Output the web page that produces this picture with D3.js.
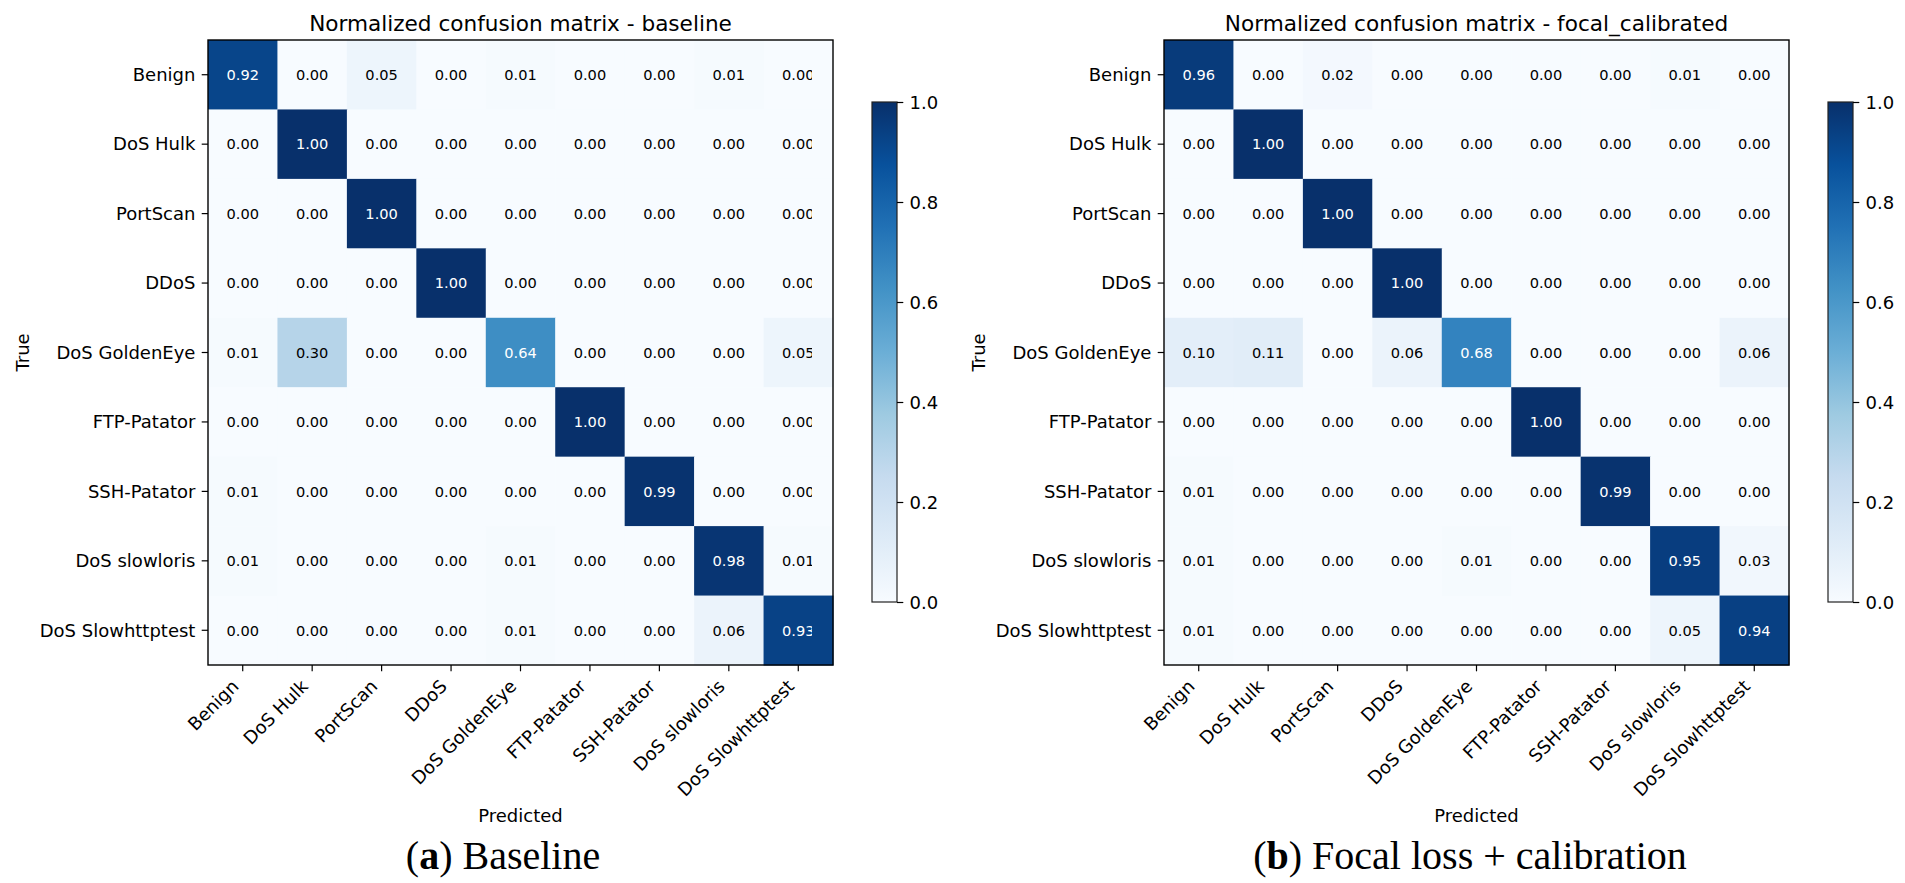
<!DOCTYPE html>
<html><head><meta charset="utf-8">
<script src="https://cdn.jsdelivr.net/npm/d3@7/dist/d3.min.js"></script>
<style>body{margin:0;background:#fff} svg{display:block}</style>
</head><body><svg id="fig" width="1905" height="883"></svg>
<script>
// ---------- data ----------
const classes = ["Benign","DoS Hulk","PortScan","DDoS","DoS GoldenEye","FTP-Patator","SSH-Patator","DoS slowloris","DoS Slowhttptest"];

const baselineValues = [
  [0.92,0.00,0.05,0.00,0.01,0.00,0.00,0.01,0.00],
  [0.00,1.00,0.00,0.00,0.00,0.00,0.00,0.00,0.00],
  [0.00,0.00,1.00,0.00,0.00,0.00,0.00,0.00,0.00],
  [0.00,0.00,0.00,1.00,0.00,0.00,0.00,0.00,0.00],
  [0.01,0.30,0.00,0.00,0.64,0.00,0.00,0.00,0.05],
  [0.00,0.00,0.00,0.00,0.00,1.00,0.00,0.00,0.00],
  [0.01,0.00,0.00,0.00,0.00,0.00,0.99,0.00,0.00],
  [0.01,0.00,0.00,0.00,0.01,0.00,0.00,0.98,0.01],
  [0.00,0.00,0.00,0.00,0.01,0.00,0.00,0.06,0.93]
];

const focalValues = [
  [0.96,0.00,0.02,0.00,0.00,0.00,0.00,0.01,0.00],
  [0.00,1.00,0.00,0.00,0.00,0.00,0.00,0.00,0.00],
  [0.00,0.00,1.00,0.00,0.00,0.00,0.00,0.00,0.00],
  [0.00,0.00,0.00,1.00,0.00,0.00,0.00,0.00,0.00],
  [0.10,0.11,0.00,0.06,0.68,0.00,0.00,0.00,0.06],
  [0.00,0.00,0.00,0.00,0.00,1.00,0.00,0.00,0.00],
  [0.01,0.00,0.00,0.00,0.00,0.00,0.99,0.00,0.00],
  [0.01,0.00,0.00,0.00,0.01,0.00,0.00,0.95,0.03],
  [0.01,0.00,0.00,0.00,0.00,0.00,0.00,0.05,0.94]
];

const colorbarTicks = [0.0,0.2,0.4,0.6,0.8,1.0];
const panelTitles = ["Normalized confusion matrix - baseline","Normalized confusion matrix - focal_calibrated"];
const captionTags = ["a","b"];
const captionTexts = [" Baseline"," Focal loss + calibration"];
const bluesStops = ["#f7fbff","#deebf7","#c6dbef","#9ecae1","#6baed6","#4292c6","#2171b5","#08519c","#08306b"];

// ---------- layout ----------
const svg = d3.select("#fig");
const SANS = "'DejaVu Sans', sans-serif";
const SERIF = "'Liberation Serif', 'DejaVu Serif', serif";
const TOP = 40, SIZE = 625;
const panels = [
  {x0:208, values:baselineValues, title:panelTitles[0], tag:captionTags[0], cap:captionTexts[0], capX:503, clipRight:812},
  {x0:1164, values:focalValues, title:panelTitles[1], tag:captionTags[1], cap:captionTexts[1], capX:1470, clipRight:null}
];

const color = d3.scaleLinear()
  .domain(bluesStops.map((_,i)=>i/(bluesStops.length-1)))
  .range(bluesStops)
  .interpolate(d3.interpolateRgb)
  .clamp(true);

// gradient for colorbars
const defs = svg.append("defs");
const grad = defs.append("linearGradient").attr("id","bluesGrad")
  .attr("x1",0).attr("y1",1).attr("x2",0).attr("y2",0);
bluesStops.forEach((c,i)=>grad.append("stop").attr("offset",(i/(bluesStops.length-1)*100)+"%").attr("stop-color",c));

panels.forEach((p,pi)=>{
  const x = d3.scaleBand().domain(classes).range([p.x0, p.x0+SIZE]);
  const y = d3.scaleBand().domain(classes).range([TOP, TOP+SIZE]);
  const g = svg.append("g");

  const cells = [];
  p.values.forEach((row,ri)=>row.forEach((v,ci)=>cells.push({r:classes[ri], c:classes[ci], v})));

  g.append("g").selectAll("rect").data(cells).join("rect")
    .attr("x",d=>x(d.c)).attr("y",d=>y(d.r))
    .attr("width",x.bandwidth()+0.5).attr("height",y.bandwidth()+0.5)
    .attr("fill",d=>color(d.v));

  let txtG = g.append("g");
  if (p.clipRight !== null) {
    defs.append("clipPath").attr("id","clip"+pi).append("rect")
      .attr("x",p.x0).attr("y",TOP).attr("width",p.clipRight-p.x0).attr("height",SIZE);
    txtG.attr("clip-path","url(#clip"+pi+")");
  }
  txtG.selectAll("text").data(cells).join("text")
    .attr("x",d=>x(d.c)+x.bandwidth()/2)
    .attr("y",d=>y(d.r)+y.bandwidth()/2)
    .attr("dy","0.36em")
    .attr("text-anchor","middle")
    .attr("font-family",SANS).attr("font-size",14.6)
    .attr("fill",d=>d.v>0.5?"#ffffff":"#000000")
    .text(d=>d.v.toFixed(2));

  // frame
  g.append("rect").attr("x",p.x0).attr("y",TOP).attr("width",SIZE).attr("height",SIZE)
    .attr("fill","none").attr("stroke","#000").attr("stroke-width",1.4);

  // y axis
  const ya = g.append("g").attr("transform",`translate(${p.x0},0)`)
    .call(d3.axisLeft(y).tickSize(6.3).tickPadding(6.3));
  ya.select(".domain").remove();
  ya.selectAll("line").attr("stroke","#000").attr("stroke-width",1.2);
  ya.selectAll("text").attr("font-family",SANS).attr("font-size",18).attr("fill","#000").attr("dy","0.35em");

  // x axis
  const xa = g.append("g").attr("transform",`translate(0,${TOP+SIZE})`)
    .call(d3.axisBottom(x).tickSize(6.3));
  xa.select(".domain").remove();
  xa.selectAll("line").attr("stroke","#000").attr("stroke-width",1.2);
  xa.selectAll("text")
    .attr("font-family",SANS).attr("font-size",18).attr("fill","#000")
    .attr("x",0).attr("y",0).attr("dy",0)
    .attr("text-anchor","end")
    .attr("transform","translate(-3,22.5) rotate(-45)");

  // title
  g.append("text").attr("x",p.x0+SIZE/2).attr("y",31)
    .attr("text-anchor","middle").attr("font-family",SANS).attr("font-size",21.6)
    .attr("fill","#000").text(p.title);

  // axis labels
  g.append("text").attr("transform",`translate(${p.x0-179},${TOP+SIZE/2}) rotate(-90)`)
    .attr("text-anchor","middle").attr("font-family",SANS).attr("font-size",18)
    .attr("fill","#000").text("True");
  g.append("text").attr("x",p.x0+SIZE/2).attr("y",822)
    .attr("text-anchor","middle").attr("font-family",SANS).attr("font-size",18)
    .attr("fill","#000").text("Predicted");

  // colorbar
  const cbX = p.x0+664, cbW = 25;
  const cbScale = d3.scaleLinear().domain([0,1]).range([602,102]);
  g.append("rect").attr("x",cbX).attr("y",cbScale(1)).attr("width",cbW)
    .attr("height",cbScale(0)-cbScale(1)).attr("fill","url(#bluesGrad)");
  g.append("rect").attr("x",cbX).attr("y",cbScale(1)).attr("width",cbW)
    .attr("height",cbScale(0)-cbScale(1)).attr("fill","none")
    .attr("stroke","#222").attr("stroke-width",1.2);
  const ca = g.append("g").attr("transform",`translate(${cbX+cbW},0)`)
    .call(d3.axisRight(cbScale).tickValues(colorbarTicks).tickFormat(d3.format(".1f")).tickSize(6.3).tickPadding(6.3));
  ca.select(".domain").remove();
  ca.selectAll("line").attr("stroke","#000").attr("stroke-width",1.2);
  ca.selectAll("text").attr("font-family",SANS).attr("font-size",18).attr("fill","#000").attr("dy","0.35em");

  // caption
  const cap = svg.append("text").attr("x",p.capX).attr("y",869)
    .attr("text-anchor","middle").attr("font-family",SERIF).attr("font-size",40).attr("fill","#000");
  cap.append("tspan").text("(");
  cap.append("tspan").attr("font-weight","bold").text(p.tag);
  cap.append("tspan").text(")"+p.cap);
});
</script>
</body></html>
